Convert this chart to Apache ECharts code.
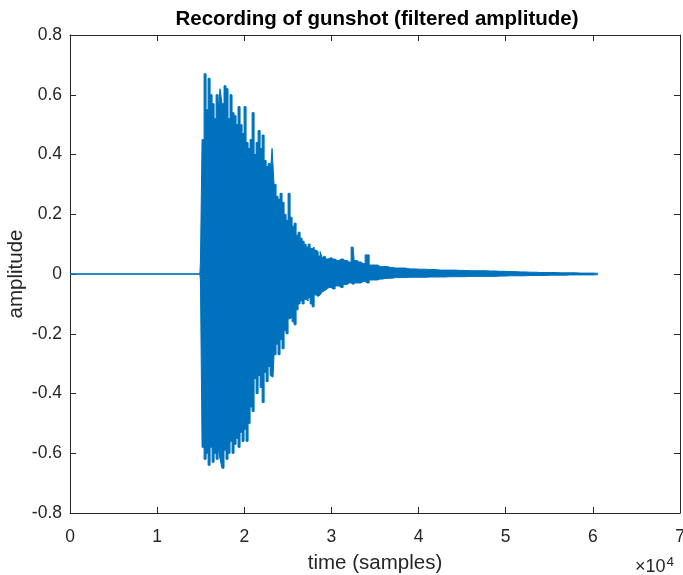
<!DOCTYPE html>
<html>
<head>
<meta charset="utf-8">
<script src="https://cdn.jsdelivr.net/npm/echarts@6/dist/echarts.min.js"></script>
<style>
html,body{margin:0;padding:0;background:#fff;}
#c{width:683px;height:575px;}
</style>
</head>
<body>
<div id="c"></div>
<script>
// ---- data ----
const titleText = 'Recording of gunshot (filtered amplitude)';
const xLabel = 'time (samples)';
const yLabel = 'amplitude';
const xTicks = [0, 10000, 20000, 30000, 40000, 50000, 60000, 70000];
const yTicks = [-0.8, -0.6, -0.4, -0.2, 0, 0.2, 0.4, 0.6, 0.8];

// envelope sample positions (samples)
const envX = [0, 14900, 15040, 15270, 15500, 15730, 15960, 16190, 16420, 16650, 16880, 17110,
  17330, 17560, 17790, 18020, 18250, 18480, 18710, 18940, 19170, 19400, 19630, 19860,
  20090, 20320, 20550, 20780, 21010, 21240, 21470, 21700, 21930, 22160, 22390, 22620,
  22850, 23080, 23300, 23530, 23760, 23990, 24220, 24450, 24680, 24910, 25140, 25370,
  25600, 25830, 26060, 26290, 26520, 26750, 26980, 27210, 27440, 27670, 27900, 28130,
  28360, 28590, 28820, 29040, 29270, 29500, 29730, 30190, 30650, 31110, 31570, 32030,
  32490, 32720, 33180, 33640, 34100, 34560, 35010, 35590, 36160, 36740, 37310, 37880,
  39030, 40180, 41330, 42480, 43620, 44770, 45920, 47070, 48220, 49360, 50510, 51660,
  52810, 53960, 55100, 56250, 57400, 58550, 59700, 60600];

// upper envelope (positive peaks)
const envUp = [0.0005, 0.0005, 0.04, 0.45, 0.67, 0.55, 0.655, 0.60, 0.57, 0.52, 0.60, 0.55,
  0.62, 0.57, 0.63, 0.62, 0.52, 0.60, 0.54, 0.53, 0.50, 0.56, 0.50, 0.47,
  0.56, 0.44, 0.42, 0.45, 0.54, 0.40, 0.44, 0.48, 0.42, 0.465, 0.38, 0.36,
  0.37, 0.33, 0.42, 0.30, 0.26, 0.25, 0.27, 0.24, 0.20, 0.18, 0.27, 0.19,
  0.16, 0.17, 0.13, 0.14, 0.12, 0.11, 0.10, 0.09, 0.10, 0.085, 0.09, 0.08,
  0.075, 0.06, 0.075, 0.055, 0.06, 0.05, 0.055, 0.05, 0.045, 0.05, 0.045, 0.04,
  0.09, 0.045, 0.04, 0.035, 0.064, 0.03, 0.03, 0.025, 0.025, 0.022, 0.02, 0.02,
  0.017, 0.016, 0.015, 0.013, 0.013, 0.012, 0.011, 0.011, 0.01, 0.009, 0.008, 0.007,
  0.006, 0.005, 0.005, 0.004, 0.004, 0.003, 0.003, 0.002];

// lower envelope (negative peaks)
const envLo = [-0.0005, -0.0005, -0.02, -0.58, -0.62, -0.60, -0.64, -0.58, -0.63, -0.60, -0.62, -0.58,
  -0.62, -0.65, -0.59, -0.62, -0.60, -0.56, -0.60, -0.57, -0.55, -0.58, -0.53, -0.56,
  -0.52, -0.56, -0.50, -0.445, -0.46, -0.35, -0.40, -0.34, -0.38, -0.43, -0.33, -0.36,
  -0.31, -0.34, -0.345, -0.27, -0.235, -0.27, -0.22, -0.25, -0.19, -0.20, -0.15, -0.145,
  -0.16, -0.17, -0.12, -0.10, -0.09, -0.10, -0.085, -0.09, -0.08, -0.10, -0.11, -0.07,
  -0.075, -0.07, -0.065, -0.06, -0.055, -0.05, -0.045, -0.05, -0.04, -0.045, -0.035, -0.03,
  -0.035, -0.03, -0.03, -0.025, -0.03, -0.02, -0.02, -0.017, -0.015, -0.014, -0.012, -0.012,
  -0.011, -0.011, -0.01, -0.01, -0.009, -0.009, -0.008, -0.008, -0.008, -0.007, -0.006, -0.006,
  -0.005, -0.005, -0.004, -0.004, -0.003, -0.003, -0.003, -0.002];

// ---- chart ----
const FONT = '"Liberation Sans", Arial, Helvetica, sans-serif';
const AX = '#262626';
const BLUE = '#0072BD';

const chart = echarts.init(document.getElementById('c'), null, {renderer: 'canvas'});

const upData = envX.map((x, i) => [x, envUp[i]]);
const loData = envX.map((x, i) => [x, envLo[i]]);

const xCommon = {
  type: 'value', min: xTicks[0], max: xTicks[xTicks.length - 1], interval: 10000,
  axisLine: {show: true, onZero: false, lineStyle: {color: AX, width: 1}},
  axisTick: {show: true, inside: true, length: 6, lineStyle: {color: AX}},
  splitLine: {show: false}
};
const yCommon = {
  type: 'value', min: yTicks[0], max: yTicks[yTicks.length - 1], interval: 0.2,
  axisLine: {show: true, onZero: false, lineStyle: {color: AX, width: 1}},
  axisTick: {show: true, inside: true, length: 6, lineStyle: {color: AX}},
  splitLine: {show: false}
};

chart.setOption({
  animation: false,
  backgroundColor: '#fff',
  title: {
    text: titleText, left: 372, top: 4, textAlign: 'center',
    textStyle: {fontFamily: FONT, fontSize: 20.5, fontWeight: 'bold', color: '#000'}
  },
  grid: {left: 70, right: 3, top: 35, bottom: 62, containLabel: false, outerBoundsMode: 'none'},
  xAxis: [
    Object.assign({}, xCommon, {
      position: 'bottom',
      name: xLabel, nameLocation: 'middle', nameGap: 40, nameMoveOverlap: false,
      nameTextStyle: {fontFamily: FONT, fontSize: 20.5, color: AX},
      axisLabel: {show: true, margin: 15, fontFamily: FONT, fontSize: 17.5, color: AX,
        formatter: v => String(Math.round(v / 10000))}
    }),
    Object.assign({}, xCommon, {position: 'top', axisLabel: {show: false}})
  ],
  yAxis: [
    Object.assign({}, yCommon, {
      position: 'left',
      name: yLabel, nameLocation: 'middle', nameGap: 43, nameMoveOverlap: false,
      nameTextStyle: {fontFamily: FONT, fontSize: 20.5, color: AX},
      axisLabel: {show: true, margin: 8, fontFamily: FONT, fontSize: 17.5, color: AX,
        formatter: v => (Math.abs(v) < 1e-9 ? '0' : v.toFixed(1))}
    }),
    Object.assign({}, yCommon, {position: 'right', axisLabel: {show: false}})
  ],
  graphic: [{
    type: 'text', left: 635, top: 555,
    style: {
      text: '×10{s|4}',
      fontFamily: FONT, fontSize: 18, fill: AX,
      rich: {s: {fontFamily: FONT, fontSize: 13.5, fill: AX, verticalAlign: 'top', padding: [0, 0, 11, 1]}}
    }
  }],
  series: [
    {
      type: 'line', xAxisIndex: 0, yAxisIndex: 0, data: upData, step: 'middle',
      showSymbol: false, symbol: 'none', silent: true,
      lineStyle: {color: BLUE, width: 1}, areaStyle: {color: BLUE, opacity: 1}
    },
    {
      type: 'line', xAxisIndex: 0, yAxisIndex: 0, data: loData, step: 'middle',
      showSymbol: false, symbol: 'none', silent: true,
      lineStyle: {color: BLUE, width: 1}, areaStyle: {color: BLUE, opacity: 1}
    }
  ]
});
</script>
</body>
</html>
